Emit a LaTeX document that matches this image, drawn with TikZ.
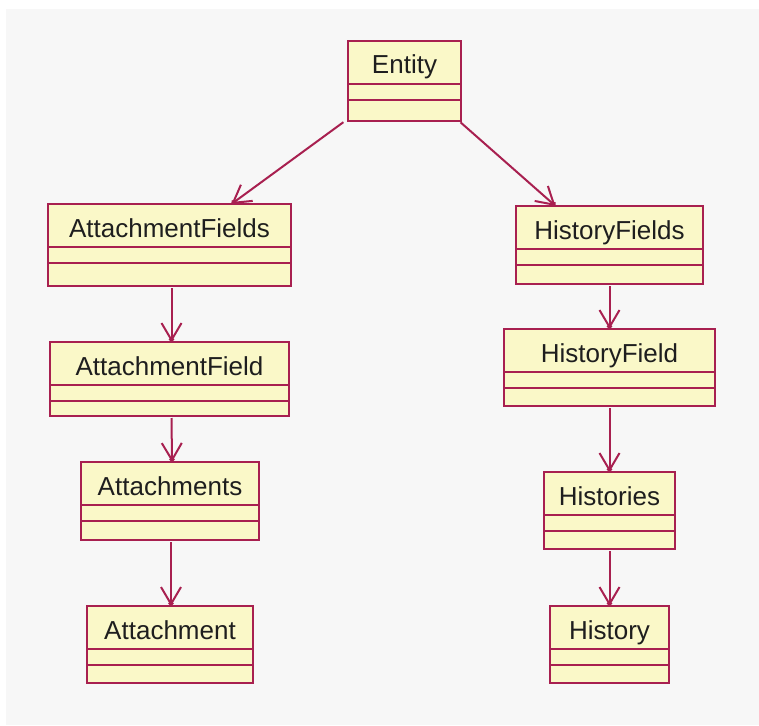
\documentclass[tikz,border=0pt]{standalone}
\usepackage{fontspec}
\setmainfont{Liberation Sans}
\usepackage{xcolor}
\usetikzlibrary{arrows.meta}
\definecolor{umlline}{RGB}{168,32,80}
\definecolor{umlfill}{RGB}{250,248,200}
\definecolor{umltext}{RGB}{30,30,30}
\definecolor{bggray}{RGB}{247,247,247}
\tikzset{
  umlclass/.style={draw=umlline, fill=umlfill, line width=2pt, anchor=north west,
    inner sep=0pt, outer sep=0pt, text=umltext, font=\fontsize{26}{30}\selectfont,
    text height=33pt, text depth=45pt},
  assoc/.style={draw=umlline, line width=2pt, shorten <=2pt,
    -{Straight Barb[length=17pt,width=20pt,sep=-5pt]Circle[length=5pt]}},
}

\begin{document}
\begin{tikzpicture}[x=1pt,y=-1pt]
\useasboundingbox (0,0) rectangle (759,725);
\fill[bggray] (6,9) rectangle (759,725);

\node[umlclass, minimum width=113pt, text depth=47pt] (entity) at (348,41) {Entity};
\node[umlclass, minimum width=243pt, text depth=49pt] (attfields) at (48,204) {AttachmentFields};
\node[umlclass, minimum width=239pt, text depth=41pt] (attfield) at (50,342) {AttachmentField};
\node[umlclass, minimum width=178pt] (attachments) at (81,462) {Attachments};
\node[umlclass, minimum width=166pt, text depth=44pt] (attachment) at (87,606) {Attachment};
\node[umlclass, minimum width=187pt] (histfields) at (516,206) {HistoryFields};
\node[umlclass, minimum width=211pt, text depth=44pt] (histfield) at (504,329) {HistoryField};
\node[umlclass, minimum width=131pt, text depth=44pt] (histories) at (544,472) {Histories};
\node[umlclass, minimum width=119pt, text depth=44pt] (history) at (550,606) {History};

\foreach \c in {entity,attfields,attfield,attachments,attachment,histfields,histfield,histories,history}{
  \draw[umlline, line width=2pt] ([yshift=-42.5pt]\c.north west) -- ([yshift=-42.5pt]\c.north east)
    ([yshift=-59pt]\c.north west) -- ([yshift=-59pt]\c.north east);
}

\draw[assoc] ([xshift=-3pt]entity.south west) -- ([xshift=62pt]attfields.north);
\draw[assoc] ([xshift=-2pt]entity.south east) -- ([xshift=-54pt]histfields.north);
\draw[assoc] ([xshift=2pt]attfields.south) -- ([xshift=2pt]attfield.north);
\draw[assoc] ([xshift=2pt]attfield.south) -- ([xshift=2pt]attachments.north);
\draw[assoc] ([xshift=1pt]attachments.south) -- ([xshift=1pt]attachment.north);
\draw[assoc] (histfields.south) -- (histfield.north);
\draw[assoc] (histfield.south) -- (histories.north);
\draw[assoc] (histories.south) -- (history.north);
\end{tikzpicture}
\end{document}
